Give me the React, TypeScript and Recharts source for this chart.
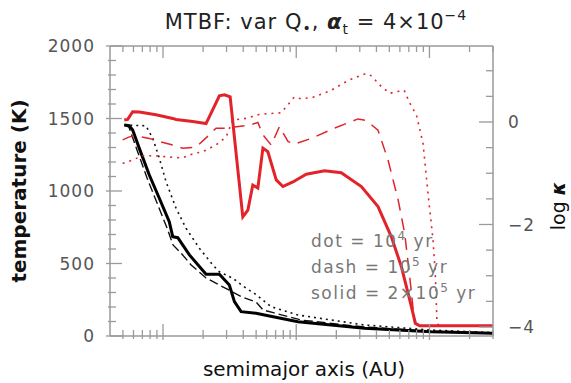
import React from "react"
import { LineChart, Line, XAxis, YAxis } from "recharts"

// semimajor axis (AU) and values
const blackSolidAU = [0.0512, 0.0558, 0.0592, 0.0664, 0.0789, 0.0938, 0.1114, 0.1183, 0.1291, 0.1578, 0.2104, 0.2649, 0.3148, 0.3436, 0.3855, 0.5, 0.5781, 1.03, 3.243, 10.35, 30]
const blackSolidT = [1455, 1450, 1421, 1294, 1110, 950, 788, 685, 678, 559, 426, 426, 352, 237, 168, 157, 145, 99, 53, 30, 19]

const blackDashAU = [0.0512, 0.0555, 0.0638, 0.0759, 0.0902, 0.1072, 0.1189, 0.1365, 0.1626, 0.2104, 0.2729, 0.3926, 0.5, 0.5649, 0.6839, 1.091, 3.243, 10.35, 30]
const blackDashT = [1455, 1441, 1283, 1090, 917, 745, 628, 572, 490, 400, 345, 269, 234, 179, 159, 110, 62, 34, 21]

const blackDotAU = [0.0512, 0.0745, 0.0838, 0.0938, 0.1054, 0.1253, 0.1489, 0.1875, 0.2366, 0.2649, 0.3342, 0.4207, 0.4853, 0.6486, 1.03, 3.243, 10.35, 30]
const blackDotT = [1455, 1450, 1363, 1226, 1064, 881, 743, 605, 490, 443, 398, 329, 294, 202, 145, 76, 41, 23]

const redSolidAU = [0.0512, 0.0543, 0.0592, 0.0664, 0.0885, 0.1183, 0.1253, 0.1671, 0.2104, 0.2649, 0.2891, 0.3192, 0.3972, 0.4335, 0.4721, 0.5152, 0.5623, 0.6124, 0.7079, 0.7943, 0.944, 1.189, 1.633, 2.178, 3.083, 4.111, 5.176, 6.152, 7.112, 7.852, 8.453, 30]
const redSolidK = [0.04, 0.05, 0.2, 0.195, 0.14, 0.07, 0.05, 0.01, -0.03, 0.51, 0.53, 0.49, -1.85, -1.72, -1.23, -1.29, -0.51, -0.58, -1.13, -1.26, -1.17, -1.02, -0.95, -0.99, -1.26, -1.65, -2.24, -2.82, -3.47, -3.93, -3.975, -3.975]

const redDashAU = [0.0498, 0.0558, 0.0627, 0.0789, 0.0938, 0.1183, 0.1406, 0.177, 0.2228, 0.25, 0.2979, 0.4457, 0.5152, 0.5623, 0.6486, 0.7482, 0.867, 0.9705, 1.297, 1.941, 2.911, 3.357, 4.111, 4.887, 5.821, 6.516, 7.112, 7.745, 8.414, 30]
const redDashK = [-0.35, -0.29, -0.27, -0.32, -0.38, -0.45, -0.51, -0.49, -0.25, -0.12, -0.12, -0.06, -0.01, -0.25, -0.45, -0.09, -0.38, -0.43, -0.32, -0.12, 0.06, 0.03, -0.16, -0.74, -1.52, -2.17, -3.02, -3.93, -3.975, -3.975]

const redDotAU = [0.0498, 0.0592, 0.0703, 0.0885, 0.1183, 0.1406, 0.1671, 0.1986, 0.25, 0.2979, 0.3342, 0.4207, 0.5297, 0.7709, 0.9705, 1.091, 1.374, 1.832, 2.449, 3.357, 3.664, 4.355, 5.035, 5.649, 6.457, 7.112, 7.98, 8.954, 9.75, 10.64, 11.09, 11.4, 11.89, 30]
const redDotK = [-0.81, -0.74, -0.66, -0.66, -0.69, -0.7, -0.62, -0.58, -0.45, -0.29, 0.04, 0.07, 0.15, 0.18, 0.49, 0.45, 0.49, 0.62, 0.81, 0.95, 0.9, 0.69, 0.56, 0.59, 0.62, 0.37, 0.14, -0.42, -1.39, -2.3, -3.02, -3.93, -3.975, -3.975]

// ticks
const xTicks = [0.05, 0.06, 0.07, 0.08, 0.09, 0.1, 0.2, 0.3, 0.4, 0.5, 0.6, 0.7, 0.8, 0.9, 1, 2, 3, 4, 5, 6, 7, 8, 9, 10, 20, 30]
const xDomain = [0.04, 30]
const tTicks = [0, 100, 200, 300, 400, 500, 600, 700, 800, 900, 1000, 1100, 1200, 1300, 1400, 1500, 1600, 1700, 1800, 1900, 2000]
const tLabels = [0, 500, 1000, 1500, 2000]
const kTicks = [-4, -3.5, -3, -2.5, -2, -1.5, -1, -0.5, 0, 0.5, 1]
const kLabels = [-4, -2, 0]

// x runs in log10(AU) on a linear axis, i.e. a log axis in AU
const rows = (a: number[], v: number[]) => a.map((x, i) => ({ la: Math.log10(x), v: v[i] }))
const logTicks = xTicks.map(Math.log10)
const logDomain = xDomain.map(Math.log10)
const isDecade = (v: number) => Math.abs(v - Math.round(v)) < 1e-6

const FRAME = "#9a9a9a"
const RED = "#e3232a"
const FONT = "DejaVu Sans, sans-serif"

// plot box: x 110..493, y 46..336
const PL = 110
const PR = 493
const PT = 46
const PB = 336

const BottomTick = (p: any) => {
  const major = isDecade(p.payload.value)
  return <line x1={p.x} x2={p.x} y1={PB - (major ? 12 : 6)} y2={PB + (major ? 4 : 3)} stroke={FRAME} strokeWidth={1.3} />
}

const TopTick = (p: any) => {
  const major = isDecade(p.payload.value)
  return <line x1={p.x} x2={p.x} y1={PT} y2={PT + (major ? 12 : 6)} stroke={FRAME} strokeWidth={1.3} />
}

const LeftTick = (p: any) => {
  const v = p.payload.value
  const major = tLabels.includes(v)
  return (
    <g>
      <line x1={PL - (major ? 4 : 2)} x2={PL + (major ? 12 : 6)} y1={p.y} y2={p.y} stroke={FRAME} strokeWidth={1.3} />
      {major && (
        <text x={PL - 15} y={p.y} dy="0.36em" textAnchor="end" fontFamily={FONT} fontSize={17} letterSpacing={1} fill="#555">
          {v}
        </text>
      )}
    </g>
  )
}

const RightTick = (p: any) => {
  const v = p.payload.value
  const major = kLabels.includes(v)
  return (
    <g>
      <line x1={PR - (major ? 14 : 7)} x2={PR} y1={p.y} y2={p.y} stroke={FRAME} strokeWidth={1.3} />
      {major && (
        <text x={PR + 15} y={p.y} dy="0.36em" textAnchor="start" fontFamily={FONT} fontSize={17} letterSpacing={1} fill="#555">
          {v < 0 ? "\u2212" + Math.abs(v) : v}
        </text>
      )}
    </g>
  )
}

export default function App() {
  return (
    <div style={{ position: "absolute", left: 0, top: 0, width: 571, height: 383, background: "#fff" }}>
      <LineChart width={571} height={383} margin={{ top: 26, right: 58, bottom: 27, left: 90 }}>
        <XAxis xAxisId="b" dataKey="la" type="number" domain={logDomain} allowDataOverflow
          ticks={logTicks} interval={0} height={20} tickLine={false}
          axisLine={{ stroke: FRAME, strokeWidth: 1.5 }} tick={BottomTick} />
        <XAxis xAxisId="t" orientation="top" dataKey="la" type="number" domain={logDomain} allowDataOverflow
          ticks={logTicks} interval={0} height={20} tickLine={false}
          axisLine={{ stroke: FRAME, strokeWidth: 1.5 }} tick={TopTick} />
        <YAxis yAxisId="T" domain={[0, 2000]} ticks={tTicks} interval={0} width={20}
          tickLine={false} axisLine={{ stroke: FRAME, strokeWidth: 1.5 }} tick={LeftTick} />
        <YAxis yAxisId="k" orientation="right" domain={[-4.176, 1.483]} allowDataOverflow ticks={kTicks} interval={0}
          width={20} tickLine={false} axisLine={{ stroke: FRAME, strokeWidth: 1.5 }} tick={RightTick} />

        <Line xAxisId="b" yAxisId="T" data={rows(blackDotAU, blackDotT)} dataKey="v" stroke="#111" strokeWidth={1.6}
          strokeDasharray="2 4" dot={false} isAnimationActive={false} />
        <Line xAxisId="b" yAxisId="T" data={rows(blackDashAU, blackDashT)} dataKey="v" stroke="#111" strokeWidth={1.4}
          strokeDasharray="9 4" dot={false} isAnimationActive={false} />
        <Line xAxisId="b" yAxisId="T" data={rows(blackSolidAU, blackSolidT)} dataKey="v" stroke="#000" strokeWidth={3}
          dot={false} isAnimationActive={false} />
        <Line xAxisId="b" yAxisId="k" data={rows(redDotAU, redDotK)} dataKey="v" stroke={RED} strokeWidth={1.6}
          strokeDasharray="2 5" dot={false} isAnimationActive={false} />
        <Line xAxisId="b" yAxisId="k" data={rows(redDashAU, redDashK)} dataKey="v" stroke={RED} strokeWidth={1.5}
          strokeDasharray="12 8" dot={false} isAnimationActive={false} />
        <Line xAxisId="b" yAxisId="k" data={rows(redSolidAU, redSolidK)} dataKey="v" stroke={RED} strokeWidth={3}
          dot={false} isAnimationActive={false} />
      </LineChart>

      <svg width={571} height={383} style={{ position: "absolute", left: 0, top: 0, pointerEvents: "none" }}>
        <text x={316} y={29} textAnchor="middle" fontFamily={FONT} fontSize={21} letterSpacing={1} fill="#222">
          MTBF: var Q<tspan fontSize={14} dy={4}>•</tspan><tspan dy={-4}>, </tspan>
          <tspan fontWeight="bold" fontStyle="italic">α</tspan><tspan fontSize={14} dy={5}>t</tspan>
          <tspan dy={-5}> = 4×10</tspan><tspan fontSize={14} dy={-9}>−4</tspan>
        </text>
        <text transform="translate(26,191) rotate(-90)" textAnchor="middle" fontFamily={FONT} fontSize={20} fontWeight="bold" fill="#111">
          temperature (K)
        </text>
        <text transform="translate(565,206) rotate(-90)" textAnchor="middle" fontFamily={FONT} fontSize={19} fill="#111">
          log <tspan fontWeight="bold" fontStyle="italic">κ</tspan>
        </text>
        <text x={304} y={376} textAnchor="middle" fontFamily={FONT} fontSize={20} fill="#111">
          semimajor axis (AU)
        </text>
        <g fontFamily={FONT} fontSize={17} letterSpacing={1.5} fill="#777">
          <text x={311} y={247}>dot = 10<tspan fontSize={12} dy={-7}>4</tspan><tspan dy={7}> yr</tspan></text>
          <text x={311} y={273}>dash = 10<tspan fontSize={12} dy={-7}>5</tspan><tspan dy={7}> yr</tspan></text>
          <text x={311} y={299}>solid = 2×10<tspan fontSize={12} dy={-7}>5</tspan><tspan dy={7}> yr</tspan></text>
        </g>
      </svg>
    </div>
  )
}
